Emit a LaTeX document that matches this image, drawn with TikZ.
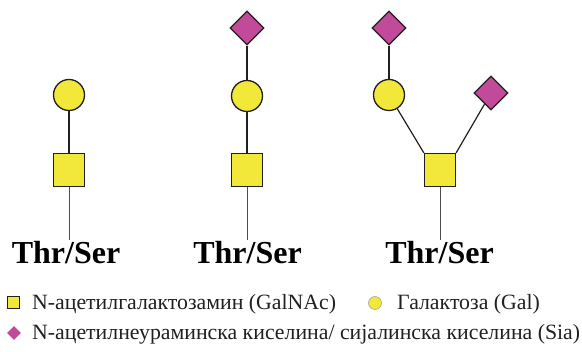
\documentclass[tikz,border=0pt]{standalone}
\usepackage{fontspec}
\setmainfont{Liberation Serif}
\newfontfamily\legfont{Liberation Serif}
\usetikzlibrary{shapes.geometric}
\definecolor{galyel}{RGB}{241,232,58}
\definecolor{siamag}{RGB}{193,74,155}
\definecolor{ink}{RGB}{35,31,32}
\tikzset{
  galnac/.style={draw=ink,line width=1.3pt,fill=galyel,rectangle,minimum width=31pt,minimum height=33pt,inner sep=0pt},
  gal/.style={draw=ink,line width=1.3pt,fill=galyel,circle,minimum size=31pt,inner sep=0pt},
  sia/.style={draw=ink,line width=1.3pt,fill=siamag,diamond,aspect=1,minimum width=34pt,minimum height=34pt,inner sep=0pt},
  bond/.style={draw=ink,line width=1.2pt},
  stem/.style={draw=ink!80,line width=0.8pt},
  aa/.style={font=\legfont\bfseries\fontsize{32}{36}\selectfont,inner sep=0pt},
  lgalnac/.style={draw=ink,line width=1pt,fill=galyel,rectangle,minimum size=12pt,inner sep=0pt},
  lgal/.style={draw=ink!40,line width=0.6pt,fill=galyel,circle,minimum size=13pt,inner sep=0pt},
  lsia/.style={fill=siamag,diamond,aspect=1,minimum width=14pt,minimum height=14pt,inner sep=0pt},
  ltext/.style={font=\legfont\fontsize{21.8}{24}\selectfont,text=ink,inner sep=0pt,anchor=base west}
}
\begin{document}
\begin{tikzpicture}[x=1pt,y=-1pt]
\useasboundingbox (0,0) rectangle (582,352);
% column 1
\node[gal] (g1) at (69,95) {};
\node[galnac] (s1) at (69,170) {};
\coordinate (e1) at (69,240);
\node[aa] (t1) at (66,253) {Thr/Ser};
\draw[bond] (g1) -- (s1);
\draw[stem] (s1) -- (e1);
% column 2
\node[sia] (d2) at (247,28) {};
\node[gal] (g2) at (247,96) {};
\node[galnac] (s2) at (247,170) {};
\coordinate (e2) at (247,240);
\node[aa] (t2) at (247.5,253) {Thr/Ser};
\draw[bond] (d2) -- (g2);
\draw[bond] (g2) -- (s2);
\draw[stem] (s2) -- (e2);
% column 3
\node[sia] (d3a) at (389,28) {};
\node[gal] (g3) at (389,95) {};
\node[sia] (d3b) at (491,93) {};
\node[galnac] (s3) at (440,170) {};
\coordinate (e3) at (440,240);
\node[aa] (t3) at (439.5,253) {Thr/Ser};
\draw[bond] (d3a) -- (g3);
\draw[bond] (g3) -- (s3.north west);
\draw[bond] (d3b) -- (s3.north east);
\draw[stem] (s3) -- (e3);
% legend
\node[lgalnac] (k1) at (13,303) {};
\node[ltext] (k1t) at (32,310) {N-ацетилгалактозамин (GalNAc)};
\node[lgal] (k2) at (375,303) {};
\node[ltext] (k2t) at (397,310) {Галактоза (Gal)};
\node[lsia] (k3) at (14,333) {};
\node[ltext] (k3t) at (32,340) {N-ацетилнеураминска киселина/ сијалинска киселина (Sia)};
\end{tikzpicture}
\end{document}
